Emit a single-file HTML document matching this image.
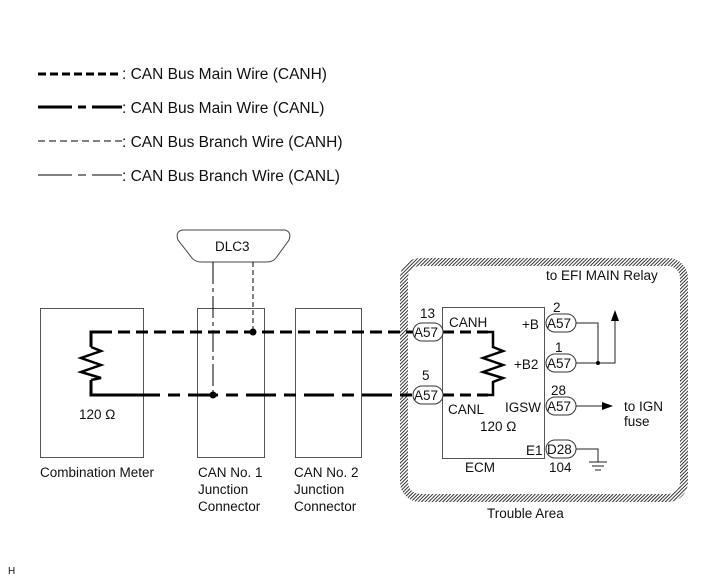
<!DOCTYPE html>
<html><head><style>
html,body{margin:0;padding:0;background:#fff}
svg{display:block}
text{font-family:"Liberation Sans",Arial,sans-serif;font-size:13.5px;fill:#111}
.lg{font-size:15.5px}
</style></head><body>
<svg width="714" height="588" viewBox="0 0 714 588" xmlns="http://www.w3.org/2000/svg">
<defs>
<pattern id="hatch" width="2.5" height="2.5" patternUnits="userSpaceOnUse" patternTransform="rotate(45)">
<rect width="2.5" height="2.5" fill="#fff"/><line x1="0" y1="0" x2="0" y2="2.5" stroke="#111" stroke-width="1.7"/>
</pattern>
</defs>
<!-- legend -->
<g stroke="#000">
<line x1="38" y1="74" x2="122" y2="74" stroke-width="3" stroke-dasharray="8 4"/>
<line x1="38" y1="107" x2="122" y2="107" stroke-width="3" stroke-dasharray="34 6 8 6"/>
<line x1="38" y1="141" x2="122" y2="141" stroke-width="1" stroke-dasharray="7 4"/>
<line x1="38" y1="175" x2="122" y2="175" stroke-width="1" stroke-dasharray="34 6 8 6"/>
</g>
<text class="lg" x="122" y="79">: CAN Bus Main Wire (CANH)</text>
<text class="lg" x="122" y="113">: CAN Bus Main Wire (CANL)</text>
<text class="lg" x="122" y="147">: CAN Bus Branch Wire (CANH)</text>
<text class="lg" x="122" y="181">: CAN Bus Branch Wire (CANL)</text>

<!-- trouble area -->
<rect x="404" y="262" width="280" height="236" rx="16" fill="none" stroke="url(#hatch)" stroke-width="8"/>
<text x="546" y="280">to EFI MAIN Relay</text>
<text x="487" y="518">Trouble Area</text>

<!-- boxes -->
<g fill="none" stroke="#555" stroke-width="1">
<rect x="40.5" y="308.5" width="103" height="149"/>
<rect x="197.5" y="308.5" width="67" height="149"/>
<rect x="295.5" y="308.5" width="66" height="149"/>
<rect x="442.5" y="307.5" width="102" height="151"/>
</g>
<text x="40" y="477">Combination Meter</text>
<text x="198" y="477">CAN No. 1</text>
<text x="198" y="494">Junction</text>
<text x="198" y="511">Connector</text>
<text x="294" y="477">CAN No. 2</text>
<text x="294" y="494">Junction</text>
<text x="294" y="511">Connector</text>
<text x="465" y="472">ECM</text>
<text x="79" y="419">120 Ω</text>

<!-- DLC3 -->
<path d="M182 230 L285 230 Q292 232 289 240 L276 258 Q273 262 266 262 L202 262 Q195 262 192 258 L178 240 Q175 232 182 230 Z" fill="#fff" stroke="#444"/>
<text x="215" y="251">DLC3</text>
<line x1="213" y1="262" x2="213" y2="395" stroke="#000" stroke-width="1" stroke-dasharray="22 4 4 4"/>
<line x1="253" y1="262" x2="253" y2="332" stroke="#000" stroke-width="1" stroke-dasharray="5 3"/>

<!-- main wires -->
<g stroke="#000" stroke-width="3" fill="none">
<path d="M91 347 L91 332 L100 332" />
<line x1="100" y1="332" x2="413" y2="332" stroke-dasharray="12 6"/>
<path d="M91 380 L91 395 L130 395"/>
<line x1="130" y1="395" x2="413" y2="395" stroke-dasharray="30 8 12 8"/>
<path d="M91 347 L101 351 L81 358 L101 365 L81 372 L101 378 L91 380" stroke-width="2.5" stroke-linejoin="miter"/>
<line x1="443" y1="332" x2="490" y2="332" stroke-dasharray="11 6"/>
<line x1="443" y1="395" x2="490" y2="395" stroke-dasharray="11 6"/>
<path d="M483 332 L493 332 L493 347 L503 351 L483 358 L503 365 L483 372 L503 378 L493 382 L493 395 L480 395" stroke-width="2.5"/>
</g>
<circle cx="253" cy="332" r="3.5"/>
<circle cx="213" cy="395" r="3.5"/>

<!-- connectors -->
<g fill="#fff" stroke="#333">
<rect x="413" y="323" width="30" height="18" rx="9"/>
<rect x="413" y="386" width="30" height="18" rx="9"/>
<rect x="546" y="314" width="30" height="18" rx="9"/>
<rect x="546" y="354" width="30" height="18" rx="9"/>
<rect x="546" y="397" width="30" height="18" rx="9"/>
<rect x="546" y="440" width="30" height="18" rx="9"/>
</g>
<g style="font-size:13px">
<text x="414" y="337">A57</text>
<text x="414" y="400">A57</text>
<text x="547" y="328">A57</text>
<text x="547" y="368">A57</text>
<text x="547" y="411">A57</text>
<text x="547" y="454">D28</text>
</g>
<text x="420" y="318">13</text>
<text x="422" y="380">5</text>
<text x="449" y="327">CANH</text>
<text x="448" y="414">CANL</text>
<text x="480" y="431">120 Ω</text>
<text x="522" y="329">+B</text>
<text x="514" y="369">+B2</text>
<text x="505" y="412">IGSW</text>
<text x="526" y="455">E1</text>
<text x="553" y="312">2</text>
<text x="555" y="352">1</text>
<text x="551" y="395">28</text>
<text x="549" y="472">104</text>
<text x="624" y="411">to IGN</text>
<text x="624" y="426">fuse</text>

<!-- right wiring -->
<g stroke="#222" stroke-width="1" fill="none">
<path d="M576 323 L598 323 L598 363"/>
<path d="M576 363 L615 363 L615 320"/>
<line x1="576" y1="406" x2="604" y2="406"/>
<path d="M576 449 L598 449 L598 462"/>
<line x1="589" y1="462" x2="607" y2="462"/>
<line x1="592" y1="466" x2="604" y2="466"/>
<line x1="595" y1="470" x2="601" y2="470"/>
</g>
<circle cx="598" cy="363" r="2"/>
<polygon points="615,310 611,321 619,321" fill="#000"/>
<polygon points="613,406 602,402 602,410" fill="#000"/>

<text x="8" y="574" style="font-size:10px">H</text>
</svg>
</body></html>
